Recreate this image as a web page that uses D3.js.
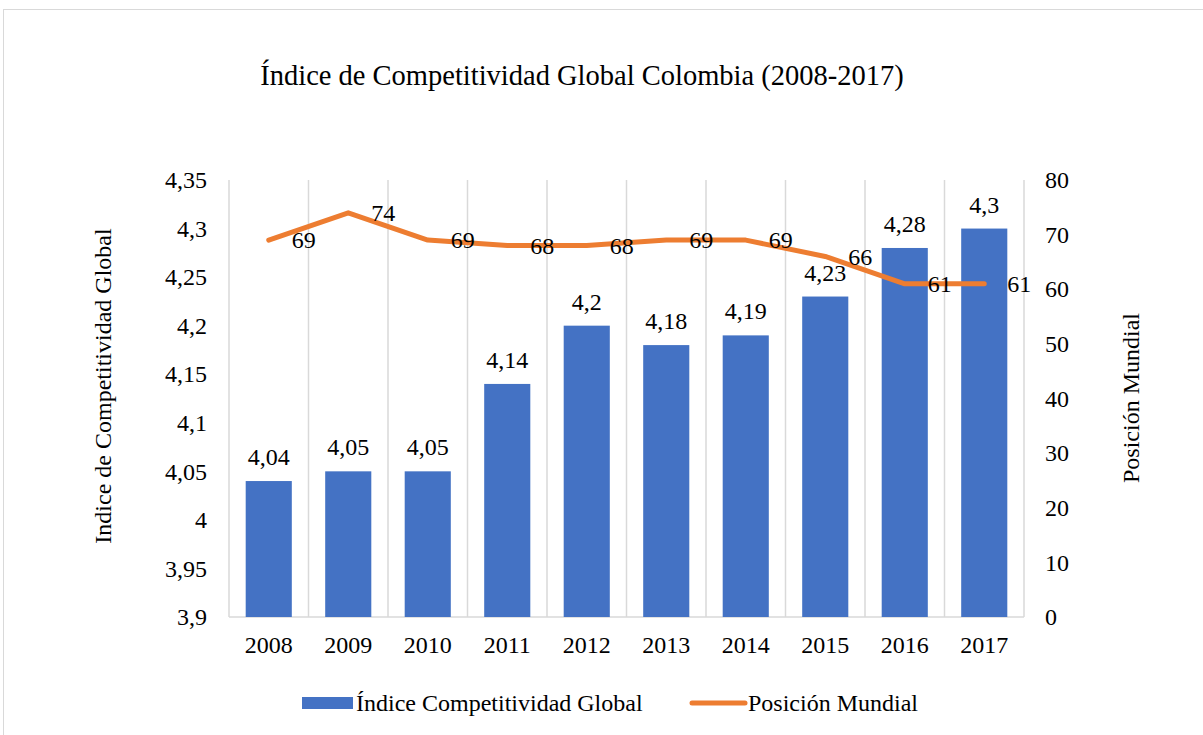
<!DOCTYPE html>
<html>
<head>
<meta charset="utf-8">
<script src="https://cdn.jsdelivr.net/npm/d3@7"></script>
</head>
<body style="margin:0; background:#fff">
<script>
/* Define data. */
const years = ["2008", "2009", "2010", "2011", "2012", "2013", "2014", "2015", "2016", "2017"]
const indice = [4.04, 4.05, 4.05, 4.14, 4.2, 4.18, 4.19, 4.23, 4.28, 4.3]
const posicion = [69, 74, 69, 68, 68, 69, 69, 66, 61, 61]
const leftTicks = [3.9, 3.95, 4, 4.05, 4.1, 4.15, 4.2, 4.25, 4.3, 4.35]
const rightTicks = [0, 10, 20, 30, 40, 50, 60, 70, 80]

/* Define svg-size. */
const width = 1203
const height = 735
const plot = { left: 229, right: 1024, top: 180, bottom: 617 }
const font = "Liberation Serif"
const fs = 24

const fmt = d => String(d).replace(".", ",")

/* Create svg-element. */
const svg = d3.select("body")
  .append("svg")
  .attr("width", width)
  .attr("height", height)

/* Chart border. */
svg.append("rect")
  .attr("x", 3.5)
  .attr("y", 9.5)
  .attr("width", 1220)
  .attr("height", 760)
  .attr("fill", "none")
  .attr("stroke", "#d9d9d9")

/* Define scales. */
const x = d3.scaleBand()
  .domain(years)
  .range([plot.left, plot.right])
  .paddingInner(0.42)
  .paddingOuter(0.21)

const xEdge = d3.scaleLinear()
  .domain([0, years.length])
  .range([plot.left, plot.right])

const yLeft = d3.scaleLinear()
  .domain([3.9, 4.35])
  .range([plot.bottom, plot.top])

const yRight = d3.scaleLinear()
  .domain([0, 80])
  .range([plot.bottom, plot.top])

/* Vertical gridlines at category edges. */
svg.append("g")
  .selectAll("line")
  .data(d3.range(years.length + 1))
  .enter()
  .append("line")
  .attr("x1", d => xEdge(d))
  .attr("x2", d => xEdge(d))
  .attr("y1", plot.top)
  .attr("y2", plot.bottom)
  .attr("stroke", "#d9d9d9")
  .attr("stroke-width", 1.5)

/* Bottom axis line. */
svg.append("line")
  .attr("x1", plot.left)
  .attr("x2", plot.right)
  .attr("y1", plot.bottom)
  .attr("y2", plot.bottom)
  .attr("stroke", "#d9d9d9")
  .attr("stroke-width", 1.5)

/* Left axis. */
const leftAxis = svg.append("g")
  .attr("transform", `translate(${plot.left - 22},0)`)
  .call(d3.axisLeft(yLeft).tickValues(leftTicks).tickFormat(fmt).tickSize(0).tickPadding(0))
leftAxis.select(".domain").remove()
leftAxis.attr("font-family", font).attr("font-size", fs)

/* Right axis. */
const rightAxis = svg.append("g")
  .attr("transform", `translate(${plot.right + 21},0)`)
  .call(d3.axisRight(yRight).tickValues(rightTicks).tickSize(0).tickPadding(0))
rightAxis.select(".domain").remove()
rightAxis.attr("font-family", font).attr("font-size", fs)

/* Bottom axis. */
const bottomAxis = svg.append("g")
  .attr("transform", "translate(0,653)")
  .call(d3.axisBottom(x).tickSize(0).tickPadding(0))
bottomAxis.select(".domain").remove()
bottomAxis.attr("font-family", font).attr("font-size", fs)
bottomAxis.selectAll("text").attr("dy", null)

/* Bars. */
svg.append("g")
  .selectAll("rect")
  .data(indice)
  .enter()
  .append("rect")
  .attr("x", (d, i) => x(years[i]))
  .attr("y", d => yLeft(d))
  .attr("width", x.bandwidth())
  .attr("height", d => plot.bottom - yLeft(d))
  .attr("fill", "#4472c4")

/* Bar labels. */
svg.append("g")
  .selectAll("text")
  .data(indice)
  .enter()
  .append("text")
  .attr("x", (d, i) => x(years[i]) + x.bandwidth() / 2)
  .attr("y", d => yLeft(d) - 16)
  .attr("text-anchor", "middle")
  .attr("font-family", font)
  .attr("font-size", fs)
  .text(fmt)

/* Line. */
const line = d3.line()
  .x((d, i) => x(years[i]) + x.bandwidth() / 2)
  .y(d => yRight(d))

svg.append("path")
  .datum(posicion)
  .attr("d", line)
  .attr("fill", "none")
  .attr("stroke", "#ed7d31")
  .attr("stroke-width", 5)
  .attr("stroke-linecap", "round")
  .attr("stroke-linejoin", "round")

/* Line labels. */
svg.append("g")
  .selectAll("text")
  .data(posicion)
  .enter()
  .append("text")
  .attr("x", (d, i) => x(years[i]) + x.bandwidth() / 2 + 23)
  .attr("y", d => yRight(d))
  .attr("dy", "0.35em")
  .attr("font-family", font)
  .attr("font-size", fs)
  .text(d => d)

/* Title. */
svg.append("text")
  .attr("x", 582)
  .attr("y", 85)
  .attr("text-anchor", "middle")
  .attr("font-family", font)
  .attr("font-size", 28.5)
  .text("Índice de Competitividad Global Colombia (2008-2017)")

/* Axis titles. */
svg.append("text")
  .attr("transform", "translate(111,386) rotate(-90)")
  .attr("text-anchor", "middle")
  .attr("font-family", font)
  .attr("font-size", fs)
  .text("Indice de Competitividad Global")

svg.append("text")
  .attr("transform", "translate(1139,398) rotate(-90)")
  .attr("text-anchor", "middle")
  .attr("font-family", font)
  .attr("font-size", fs)
  .text("Posición Mundial")

/* Legend. */
const legend = svg.append("g")
  .attr("font-family", font)
  .attr("font-size", fs)
legend.append("rect")
  .attr("x", 302)
  .attr("y", 697)
  .attr("width", 51)
  .attr("height", 12)
  .attr("fill", "#4472c4")
legend.append("text")
  .attr("x", 356)
  .attr("y", 711)
  .text("Índice Competitividad Global")
legend.append("line")
  .attr("x1", 692)
  .attr("x2", 745)
  .attr("y1", 703)
  .attr("y2", 703)
  .attr("stroke", "#ed7d31")
  .attr("stroke-width", 5)
  .attr("stroke-linecap", "round")
legend.append("text")
  .attr("x", 748)
  .attr("y", 711)
  .text("Posición Mundial")
</script>
</body>
</html>
